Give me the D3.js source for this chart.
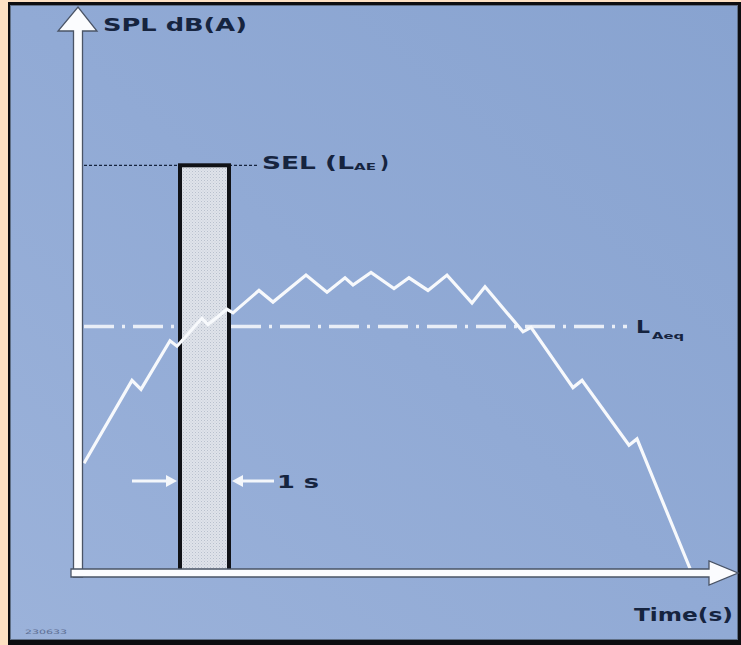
<!DOCTYPE html>
<html><head><meta charset="utf-8">
<script src="https://cdn.jsdelivr.net/npm/d3@7"></script>
<style>html,body{margin:0;padding:0;background:#fde0c2;}svg{display:block;}</style>
</head><body>
<script>
// ---- data (time in s, level in dB(A)) ----
const timeS = [0.12, 1.08, 1.26, 1.84, 1.98, 2.48, 2.6, 2.98, 3.1, 3.62, 3.9, 4.56, 4.98, 5.34, 5.5, 5.86, 6.32, 6.62, 7.0, 7.38, 7.88, 8.14, 8.9, 9.06, 9.9, 10.08, 11.02, 11.18, 11.68, 12.24];
const splDb = [52.2, 61.4, 60.4, 65.8, 65.2, 68.3, 67.6, 69.3, 68.9, 71.4, 70.1, 73.1, 71.2, 72.8, 72.0, 73.4, 71.6, 72.8, 71.4, 73.1, 70.0, 71.8, 66.8, 67.3, 60.6, 61.4, 54.2, 54.9, 48.1, 40.5];
const selBar = [2.04, 3.02];      // 1 s window
const selLevel = [85.3];
const laeqLevel = [67.4];
const laeqSpan = [0.12, 10.98];
const labels = ["SPL dB(A)", "Time(s)", "SEL (L", "AE", ")", "L", "Aeq", "1 s", "230633"];

const W = 741, H = 645;
const x = d3.scaleLinear().domain([0, 12.6]).range([78, 708]);
const y = d3.scaleLinear().domain([40, 100]).range([573, 33]);
const ink = "#16243f";

const svg = d3.select("body").append("svg").attr("width", W).attr("height", H);
const defs = svg.append("defs");
const g = defs.append("linearGradient").attr("id","bg").attr("x1","0").attr("y1","1").attr("x2","1").attr("y2","0");
g.append("stop").attr("offset","0").attr("stop-color","#9bb2da");
g.append("stop").attr("offset","0.5").attr("stop-color","#91aad5");
g.append("stop").attr("offset","1").attr("stop-color","#88a3d0");
const pat = defs.append("pattern").attr("id","dots").attr("width",3).attr("height",3).attr("patternUnits","userSpaceOnUse");
pat.append("rect").attr("width",3).attr("height",3).attr("fill","#dfe3ea");
pat.append("rect").attr("x",0).attr("y",0).attr("width",1).attr("height",1).attr("fill","#b9c0cd");
pat.append("rect").attr("x",1.5).attr("y",1.5).attr("width",1).attr("height",1).attr("fill","#c8ced9");

// frame
svg.append("rect").attr("width",W).attr("height",H).attr("fill","#fde0c2");
svg.append("rect").attr("x",8).attr("y",2).attr("width",W-8).attr("height",H-2).attr("fill","#0d0d10");
svg.append("rect").attr("x",10).attr("y",5).attr("width",W-13).attr("height",H-10).attr("fill","#5f6f86");
svg.append("rect").attr("x",11).attr("y",6).attr("width",W-15).attr("height",H-12).attr("fill","url(#bg)");

// L_Aeq dash-dot line
svg.append("line").attr("x1",x(laeqSpan[0])).attr("x2",x(laeqSpan[1]))
  .attr("y1",y(laeqLevel[0])).attr("y2",y(laeqLevel[0]))
  .attr("stroke","#e9eef7").attr("stroke-width",3.5).attr("stroke-dasharray","30,8,3,8");

// SEL dotted guide
const ySel = y(selLevel[0]);
svg.append("line").attr("x1",x(0.12)).attr("x2",x(selBar[0])).attr("y1",ySel).attr("y2",ySel)
  .attr("stroke",ink).attr("stroke-width",1.2).attr("stroke-dasharray","3,2");
svg.append("line").attr("x1",x(selBar[1])).attr("x2",x(selBar[1])+28).attr("y1",ySel).attr("y2",ySel)
  .attr("stroke",ink).attr("stroke-width",1.2).attr("stroke-dasharray","3,2");

// SEL bar
svg.append("rect").attr("x",x(selBar[0])).attr("y",ySel)
  .attr("width",x(selBar[1])-x(selBar[0])).attr("height",y(40)-2-ySel)
  .attr("fill","url(#dots)").attr("stroke","#101217").attr("stroke-width",4);

// SPL curve
const line = d3.line().x((d,i)=>x(timeS[i])).y((d,i)=>y(splDb[i]));
svg.append("path").attr("d",line(splDb)).attr("fill","none")
  .attr("stroke","#f7f9fc").attr("stroke-width",3.2).attr("stroke-linejoin","miter");

// axes (block arrows)
const yAxisX = x(0), xAxisY = y(40);
const yAxisPath = d3.path();
yAxisPath.moveTo(yAxisX-4.5, xAxisY+4); yAxisPath.lineTo(yAxisX-4.5, 31); yAxisPath.lineTo(yAxisX-20, 31);
yAxisPath.lineTo(yAxisX, 7); yAxisPath.lineTo(yAxisX+19, 31); yAxisPath.lineTo(yAxisX+4.5, 31);
yAxisPath.lineTo(yAxisX+4.5, xAxisY+4); yAxisPath.closePath();
const xAxisPath = d3.path();
xAxisPath.moveTo(71, xAxisY-4); xAxisPath.lineTo(709, xAxisY-4); xAxisPath.lineTo(709, xAxisY-12);
xAxisPath.lineTo(738, xAxisY); xAxisPath.lineTo(709, xAxisY+12); xAxisPath.lineTo(709, xAxisY+4);
xAxisPath.lineTo(71, xAxisY+4); xAxisPath.closePath();
[yAxisPath, xAxisPath].forEach(p=>svg.append("path").attr("d",p.toString())
  .attr("fill","#fbfcfe").attr("stroke","#4a5466").attr("stroke-width",1.3));

// 1 s arrows
const yArr = 481;
function arrow(x1, x2){
  const dir = Math.sign(x2-x1);
  svg.append("line").attr("x1",x1).attr("x2",x2-dir*8).attr("y1",yArr).attr("y2",yArr)
    .attr("stroke","#f4f7fb").attr("stroke-width",3);
  svg.append("path").attr("d",`M${x2},${yArr} L${x2-dir*11},${yArr-6} L${x2-dir*11},${yArr+6} Z`).attr("fill","#f4f7fb");
}
arrow(132, x(selBar[0])-3);
arrow(274, x(selBar[1])+3);

// text
const font = "'DejaVu Sans', Arial, sans-serif";
function txt(s, px, py, size, len){
  const t = svg.append("text").attr("x",px).attr("y",py).text(s)
    .attr("font-family",font).attr("font-weight","bold").attr("font-size",size).attr("fill",ink);
  if(len) t.attr("textLength",len).attr("lengthAdjust","spacingAndGlyphs");
  return t;
}
txt(labels[0], 103, 31, 18, 144);
txt(labels[1], 634, 621, 18, 99);
txt(labels[2], 262, 169, 17, 92);
txt(labels[3], 354, 170, 9, 22);
txt(labels[4], 380, 169, 17, 9);
txt(labels[5], 636, 333, 17, 14);
txt(labels[6], 652, 339, 9, 32);
txt(labels[7], 277, 488, 17, 42);
svg.append("text").attr("x",25).attr("y",634).text(labels[8])
  .attr("font-family",font).attr("font-size",6).attr("fill","#5d6f94").attr("textLength",42).attr("lengthAdjust","spacingAndGlyphs");
</script>
</body></html>
